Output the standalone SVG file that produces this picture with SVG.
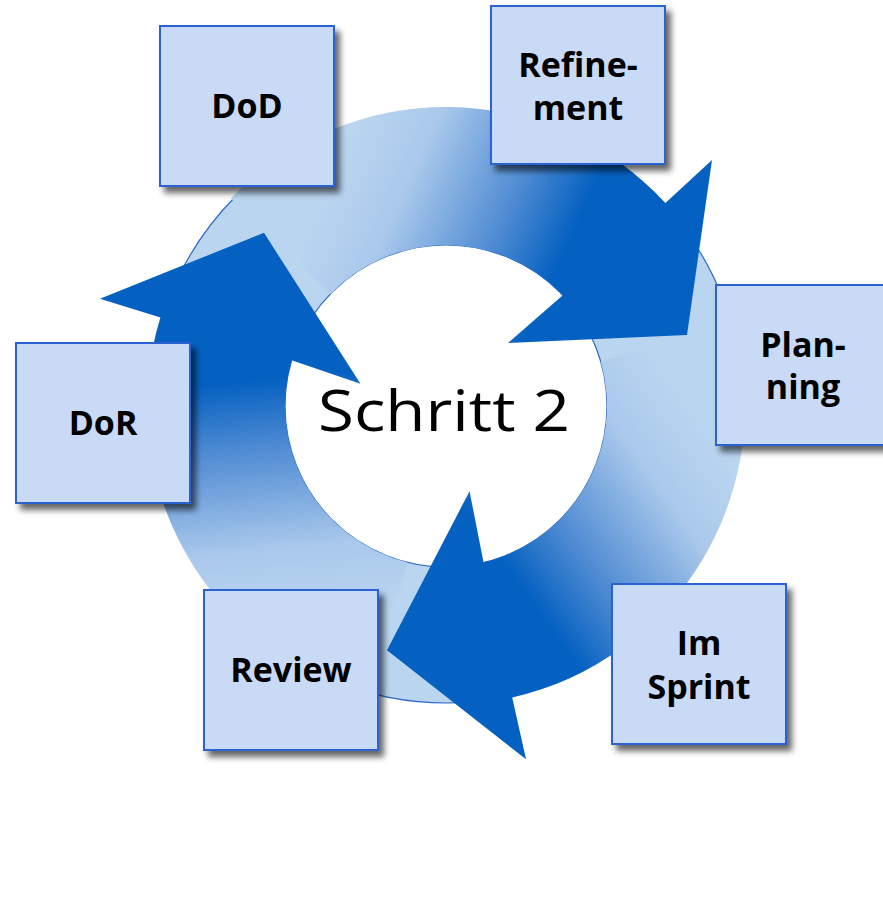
<svg xmlns="http://www.w3.org/2000/svg" xmlns:xlink="http://www.w3.org/1999/xlink" width="883" height="908" viewBox="0 0 883 908">
  <style>
    .box { fill: #c9daf7; stroke: #2a62d2; stroke-width: 2; filter: url(#shadow); }
    .lbl { font-family: "Open Sans", "Noto Sans", "Liberation Sans", sans-serif; font-weight: 700; font-size: 34px; fill: #000; text-anchor: middle; }
    .center { font-family: "Open Sans", "Noto Sans", "Liberation Sans", sans-serif; font-weight: 400; font-size: 57px; fill: #000; text-anchor: middle; }
  </style>
  <defs>
    <filter id="shadow" x="-20%" y="-20%" width="150%" height="150%">
      <feGaussianBlur in="SourceAlpha" stdDeviation="3"/>
      <feOffset dx="5" dy="6" result="b"/>
      <feFlood flood-color="#000" flood-opacity="0.6"/>
      <feComposite in2="b" operator="in"/>
      <feMerge><feMergeNode/><feMergeNode in="SourceGraphic"/></feMerge>
    </filter>
    <linearGradient id="arrowGrad" gradientUnits="userSpaceOnUse" x1="340" y1="160" x2="560" y2="260">
      <stop offset="0" stop-color="#bad5f0"/>
      <stop offset="0.3" stop-color="#a9c8eb"/>
      <stop offset="0.72" stop-color="#4f8bd3"/>
      <stop offset="1" stop-color="#0561c1"/>
    </linearGradient>
    <path id="arrow" fill="url(#arrowGrad)" d="M 230.9 198.3 A 299 299 0 0 1 665.4 202.9 L 712 160 L 687 335 L 508 343 L 562.8 295.2 A 161 161 0 0 0 330.2 294.2 Z"/>
  </defs>

  <g id="ring">
    <path d="M 149 406 A 297 297 0 1 0 743 406 A 297 297 0 1 0 149 406 Z M 285 406 A 161 161 0 1 1 607 406 A 161 161 0 1 1 285 406 Z" fill="#bad5f0" fill-rule="evenodd" stroke="#2a68c4" stroke-width="1.2"/>
  </g>

  <g id="connectors">
    <use xlink:href="#arrow" href="#arrow"/>
    <use xlink:href="#arrow" href="#arrow" transform="rotate(120 446 406)"/>
    <use xlink:href="#arrow" href="#arrow" transform="rotate(240 446 406)"/>
  </g>

  <g id="center-label">
    <text class="center" x="444" y="431" textLength="252" lengthAdjust="spacingAndGlyphs">Schritt 2</text>
  </g>

  <g id="node-dod">
    <rect class="box" x="160" y="26" width="174" height="160"/>
    <text class="lbl" x="247" y="118">DoD</text>
  </g>
  <g id="node-refinement">
    <rect class="box" x="491" y="6" width="174" height="158"/>
    <text class="lbl" x="578" y="77">Refine-</text>
    <text class="lbl" x="578" y="120">ment</text>
  </g>
  <g id="node-planning">
    <rect class="box" x="716" y="285" width="174" height="160"/>
    <text class="lbl" x="803" y="357">Plan-</text>
    <text class="lbl" x="803" y="399">ning</text>
  </g>
  <g id="node-im-sprint">
    <rect class="box" x="612" y="584" width="174" height="160"/>
    <text class="lbl" x="699" y="655">Im</text>
    <text class="lbl" x="699" y="699">Sprint</text>
  </g>
  <g id="node-review">
    <rect class="box" x="204" y="590" width="174" height="160"/>
    <text class="lbl" x="291" y="682">Review</text>
  </g>
  <g id="node-dor">
    <rect class="box" x="16" y="343" width="174" height="160"/>
    <text class="lbl" x="103" y="435">DoR</text>
  </g>
</svg>
